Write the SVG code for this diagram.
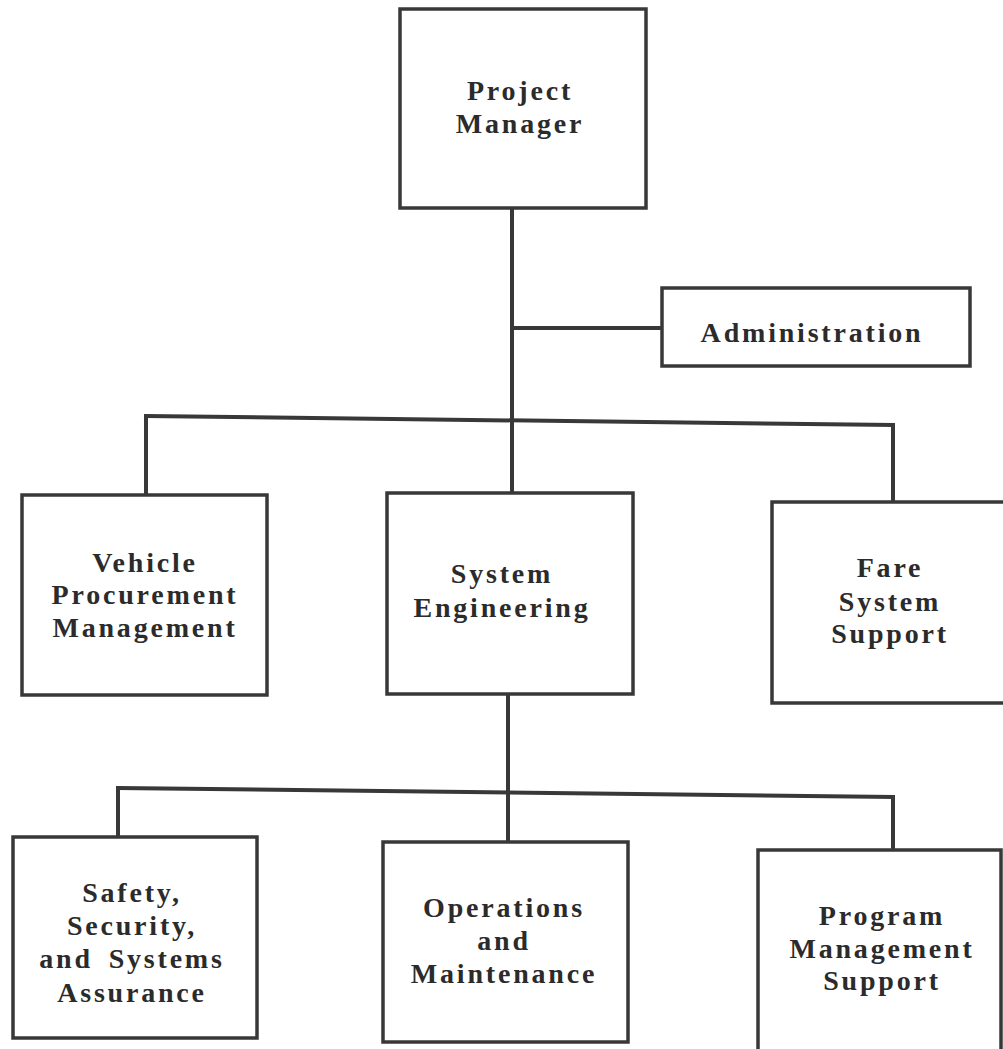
<svg xmlns="http://www.w3.org/2000/svg" width="1003" height="1049" viewBox="0 0 1003 1049">
  <style>
    .box { fill: #ffffff; stroke: #383838; stroke-width: 3.5; }
    .wire { fill: none; stroke: #383838; stroke-width: 4; stroke-linecap: square; }
    .lbl { font-family: "Liberation Serif", "Times New Roman", serif; font-weight: bold; font-size: 28px; letter-spacing: 2.8px; fill: #2b2b2b; text-anchor: middle; }
  </style>
  <rect width="1003" height="1049" fill="#ffffff"/>

  <!-- reporting lines -->
  <g id="connectors">
    <path class="wire" d="M512 208 L512 493"/>
    <path class="wire" d="M512 328 L662 328"/>
    <path class="wire" d="M146 416 L893 425"/>
    <path class="wire" d="M146 416 L146 495"/>
    <path class="wire" d="M893 425 L893 502"/>
    <path class="wire" d="M508 695 L508 842"/>
    <path class="wire" d="M118 788 L893 797"/>
    <path class="wire" d="M118 788 L118 837"/>
    <path class="wire" d="M893 797 L893 850"/>
  </g>

  <g id="project-manager">
    <rect class="box" x="400" y="9" width="246" height="199"/>
    <text class="lbl" x="520" y="100">Project</text>
    <text class="lbl" x="520" y="133">Manager</text>
  </g>

  <g id="administration">
    <rect class="box" x="662" y="288" width="308" height="78"/>
    <text class="lbl" x="812" y="342">Administration</text>
  </g>

  <g id="vehicle-procurement">
    <rect class="box" x="22" y="495" width="245" height="200"/>
    <text class="lbl" x="145" y="572">Vehicle</text>
    <text class="lbl" x="145" y="604">Procurement</text>
    <text class="lbl" x="145" y="637">Management</text>
  </g>

  <g id="system-engineering">
    <rect class="box" x="387" y="493" width="246" height="201"/>
    <text class="lbl" x="502" y="583">System</text>
    <text class="lbl" x="502" y="617">Engineering</text>
  </g>

  <g id="fare-system-support">
    <rect class="box" x="772" y="502" width="240" height="201"/>
    <text class="lbl" x="890" y="577">Fare</text>
    <text class="lbl" x="890" y="611">System</text>
    <text class="lbl" x="890" y="643">Support</text>
  </g>

  <g id="safety-security">
    <rect class="box" x="13" y="837" width="244" height="201"/>
    <text class="lbl" x="132" y="902">Safety,</text>
    <text class="lbl" x="132" y="935">Security,</text>
    <text class="lbl" x="132" y="968" word-spacing="6">and Systems</text>
    <text class="lbl" x="132" y="1002">Assurance</text>
  </g>

  <g id="operations-maintenance">
    <rect class="box" x="383" y="842" width="245" height="200"/>
    <text class="lbl" x="504" y="917">Operations</text>
    <text class="lbl" x="504" y="950">and</text>
    <text class="lbl" x="504" y="983">Maintenance</text>
  </g>

  <g id="program-management-support">
    <rect class="box" x="758" y="850" width="243" height="210"/>
    <text class="lbl" x="882" y="925">Program</text>
    <text class="lbl" x="882" y="958">Management</text>
    <text class="lbl" x="882" y="990">Support</text>
  </g>
</svg>
